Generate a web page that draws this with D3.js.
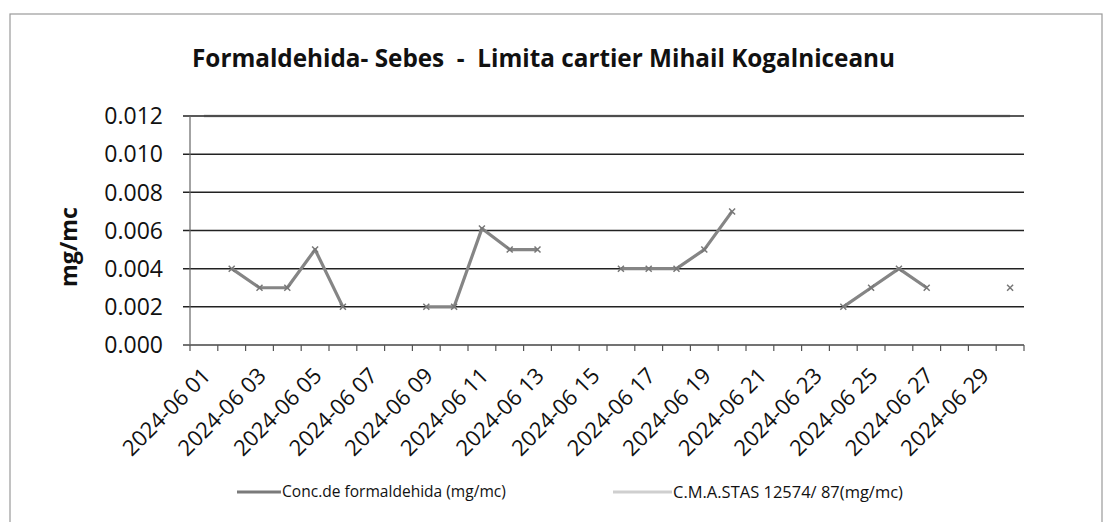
<!DOCTYPE html>
<html>
<head>
<meta charset="utf-8">
<script src="https://cdn.jsdelivr.net/npm/d3@7"></script>
<style>
  body { margin: 0; background: #fff; }
  text { font-family: "Open Sans", "Noto Sans", sans-serif; fill: #111; white-space: pre; }
</style>
</head>
<body>
<div id="chart"></div>
<script>
// Chart size
const width = 1109;
const height = 522;

// Categories (one per day of June 2024)
const days = [
  "2024-06 01", "2024-06 02", "2024-06 03", "2024-06 04", "2024-06 05",
  "2024-06 06", "2024-06 07", "2024-06 08", "2024-06 09", "2024-06 10",
  "2024-06 11", "2024-06 12", "2024-06 13", "2024-06 14", "2024-06 15",
  "2024-06 16", "2024-06 17", "2024-06 18", "2024-06 19", "2024-06 20",
  "2024-06 21", "2024-06 22", "2024-06 23", "2024-06 24", "2024-06 25",
  "2024-06 26", "2024-06 27", "2024-06 28", "2024-06 29", "2024-06 30"
];

// Measured formaldehyde concentration (mg/mc), null = no measurement
const conc = [
  null, 0.004, 0.003, 0.003, 0.005,
  0.002, null, null, 0.002, 0.002,
  0.0061, 0.005, 0.005, null, null,
  0.004, 0.004, 0.004, 0.005, 0.007,
  null, null, null, 0.002, 0.003,
  0.004, 0.003, null, null, 0.003
];

// Limit value C.M.A. STAS 12574/87
const cma = days.map(() => 0.012);

// Y axis ticks
const yTicks = [0, 0.002, 0.004, 0.006, 0.008, 0.010, 0.012];

const titleText = "Formaldehida- Sebes  -  Limita cartier Mihail Kogalniceanu";
const seriesNames = ["Conc.de formaldehida (mg/mc)", "C.M.A.STAS 12574/ 87(mg/mc)"];

const margin = { left: 190, right: 1024, top: 116, bottom: 345 };

const svg = d3.select("#chart")
  .append("svg")
  .attr("width", width)
  .attr("height", height);

// shrink/grow a text so it spans a given width
function fitText(sel, target) {
  const node = sel.node();
  const size = parseFloat(sel.attr("font-size"));
  const w = node.getComputedTextLength();
  sel.attr("font-size", (size * target / w).toFixed(2));
}

// outer chart border
svg.append("rect")
  .attr("x", 10).attr("y", 14)
  .attr("width", 1092).attr("height", 540)
  .attr("fill", "none")
  .attr("stroke", "#9a9a9a")
  .attr("stroke-width", 1.2);

const x = d3.scaleBand()
  .domain(days)
  .range([margin.left, margin.right]);

const y = d3.scaleLinear()
  .domain([0, 0.012])
  .range([margin.bottom, margin.top]);

// title
const title = svg.append("text")
  .attr("x", 192)
  .attr("y", 67)
  .attr("font-size", 22)
  .attr("font-weight", "bold")
  .attr("xml:space", "preserve")
  .text(titleText);
fitText(title, 703);

// CMA series (light grey, under the grid)
const line = d3.line()
  .defined(d => d.v !== null)
  .x(d => x(d.day) + x.bandwidth() / 2)
  .y(d => y(d.v));

svg.append("path")
  .datum(days.map((day, i) => ({ day, v: cma[i] })))
  .attr("d", line)
  .attr("fill", "none")
  .attr("stroke", "#cfcfcf")
  .attr("stroke-width", 3);

// gridlines + y ticks
svg.selectAll(".grid")
  .data(yTicks)
  .enter()
  .append("line")
  .attr("x1", margin.left - 7)
  .attr("x2", margin.right)
  .attr("y1", d => y(d))
  .attr("y2", d => y(d))
  .attr("stroke", d => d === 0 ? "#444" : "#222")
  .attr("stroke-width", 1.5);

// y axis line
svg.append("line")
  .attr("x1", margin.left).attr("x2", margin.left)
  .attr("y1", margin.top).attr("y2", margin.bottom)
  .attr("stroke", "#666")
  .attr("stroke-width", 1.2);

// y tick labels
svg.selectAll(".ylab")
  .data(yTicks)
  .enter()
  .append("text")
  .attr("x", 163)
  .attr("y", d => y(d))
  .attr("dy", "0.36em")
  .attr("text-anchor", "end")
  .attr("font-size", 23)
  .text(d => d3.format(".3f")(d));

// y axis title
const ytitle = svg.append("text")
  .attr("transform", "translate(77,247) rotate(-90)")
  .attr("text-anchor", "middle")
  .attr("font-size", 20)
  .attr("font-weight", "bold")
  .text("mg/mc");
fitText(ytitle, 80);

// x ticks on category boundaries
const bounds = days.map(d => x(d)).concat([margin.right]);
svg.selectAll(".xtick")
  .data(bounds)
  .enter()
  .append("line")
  .attr("x1", d => d).attr("x2", d => d)
  .attr("y1", margin.bottom).attr("y2", margin.bottom + 6)
  .attr("stroke", "#555")
  .attr("stroke-width", 1.2);

// x labels, every second day
svg.selectAll(".xlab")
  .data(days.filter((d, i) => i % 2 === 0))
  .enter()
  .append("text")
  .attr("text-anchor", "end")
  .attr("font-size", 22)
  .attr("transform", d => `translate(${x(d) + x.bandwidth() / 2 + 8},${margin.bottom + 32}) rotate(-45)`)
  .text(d => d);

// concentration series
const concData = days.map((day, i) => ({ day, v: conc[i] }));
svg.append("path")
  .datum(concData)
  .attr("d", line)
  .attr("fill", "none")
  .attr("stroke", "#858585")
  .attr("stroke-width", 3.2)
  .attr("stroke-linejoin", "round");

// small x markers
const s = 3;
svg.selectAll(".mark")
  .data(concData.filter(d => d.v !== null))
  .enter()
  .append("path")
  .attr("d", d => {
    const cx = x(d.day) + x.bandwidth() / 2;
    const cy = y(d.v);
    return `M${cx - s},${cy - s}L${cx + s},${cy + s}M${cx - s},${cy + s}L${cx + s},${cy - s}`;
  })
  .attr("stroke", "#777")
  .attr("stroke-width", 1.5);

// legend
const legend = [
  { name: seriesNames[0], color: "#7a7a7a", x1: 237, x2: 281, tx: 282, w: 224 },
  { name: seriesNames[1], color: "#cfcfcf", x1: 613, x2: 672, tx: 673, w: 230 }
];
legend.forEach(l => {
  svg.append("line")
    .attr("x1", l.x1).attr("x2", l.x2)
    .attr("y1", 492).attr("y2", 492)
    .attr("stroke", l.color)
    .attr("stroke-width", 3);
  const t = svg.append("text")
    .attr("x", l.tx)
    .attr("y", 492)
    .attr("dy", "0.35em")
    .attr("font-size", 17)
    .text(l.name);
  fitText(t, l.w);
});
</script>
</body>
</html>
